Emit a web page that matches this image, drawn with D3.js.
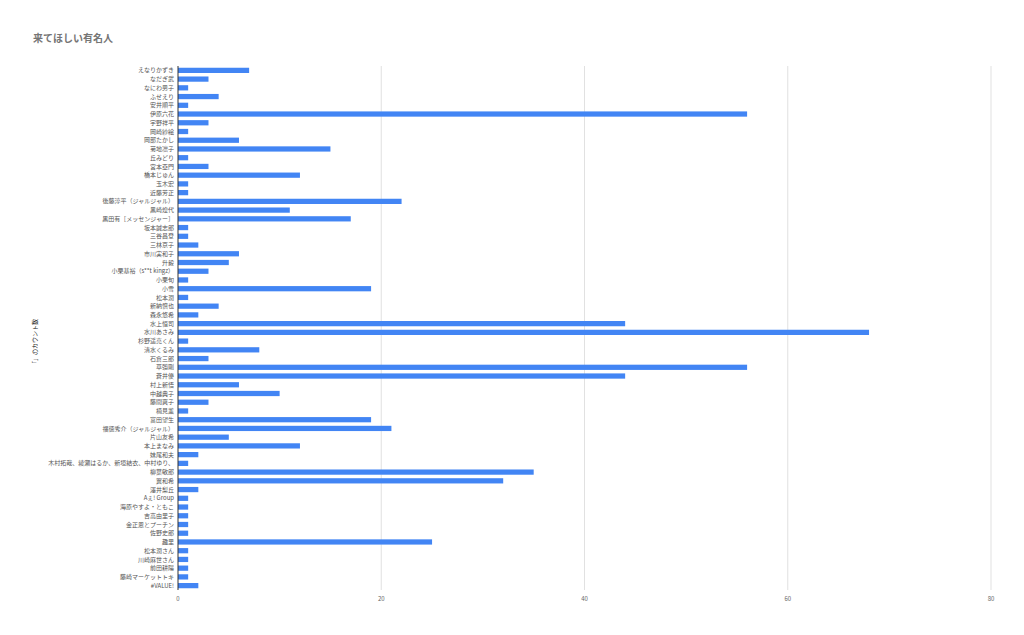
<!DOCTYPE html>
<html>
<head>
<meta charset="utf-8">
<script src="https://cdn.jsdelivr.net/npm/d3@7"></script>
<style>
  body { margin: 0; background: #fff; }
  svg { font-family: "Noto Sans CJK JP", "Noto Sans", sans-serif; }
</style>
</head>
<body>
<svg width="1024" height="635"></svg>
<script>
'use strict';

var names = [
    'えなりかずき', 'なだぎ武', 'なにわ男子', 'ふせえり', '安井順平', '伊原六花', '宇野祥平', '岡崎紗絵',
    '岡部たかし', '菊地凛子', '丘みどり', '宮本亞門', '橋本じゅん', '玉木宏', '近藤芳正',
    '後藤淳平（ジャルジャル）', '黒崎煌代', '黒田有［メッセンジャー］', '坂本誠志郎', '三谷昌登', '三林京子',
    '市川実和子', '升毅', '小栗基裕（s**t kingz）', '小栗旬', '小雪', '松本潤', '新納慎也', '森永悠希',
    '水上恒司', '水川あさみ', '杉野遥亮くん', '清水くるみ', '石倉三郎', '草彅剛', '蒼井優', '村上新悟',
    '中越典子', '藤間爽子', '楠見薫', '富田望生', '福徳秀介（ジャルジャル）', '片山友希', '本上まなみ',
    '妹尾和夫', '木村拓哉、綾瀬はるか、新垣結衣、中村ゆり、', '柳葉敏郎', '翼和希', '澤井梨丘', 'Aぇ! Group',
    '海原やすよ・ともこ', '吉高由里子', '金正恩とプーチン', '佐野史郎', '趣里', '松本潤さん', '川崎麻世さん',
    '前田耕陽', '藤崎マーケットトキ', '#VALUE!'
];
var counts = [
    7, 3, 1, 4, 1, 56, 3, 1,
    6, 15, 1, 3, 12, 1, 1,
    22, 11, 17, 1, 1, 2,
    6, 5, 3, 1, 19, 1, 4, 2,
    44, 68, 1, 8, 3, 56, 44, 6,
    10, 3, 1, 19, 21, 5, 12,
    2, 1, 35, 32, 2, 1,
    1, 1, 1, 1, 25, 1, 1,
    1, 1, 2
];
var xTicks = [0, 20, 40, 60, 80];

var svg = d3.select('svg');
var plotLeft = 178, plotRight = 991, plotTop = 66, plotBottom = 590;

var x = d3.scaleLinear().domain([0, 80]).range([plotLeft, plotRight]);
var y = d3.scaleBand().domain(d3.range(names.length)).range([plotTop, plotBottom]).paddingInner(0.4).paddingOuter(0.2);

// 标题
svg.append('text')
    .text('来てほしい有名人')
    .attr('x', 33)
    .attr('y', 42)
    .attr('font-size', '10px')
    .attr('font-weight', 'bold')
    .attr('fill', '#757575');

// 网格线
svg.append('g')
    .selectAll('line')
    .data(xTicks.slice(1))
    .enter()
    .append('line')
    .attr('x1', function (d) { return x(d); })
    .attr('x2', function (d) { return x(d); })
    .attr('y1', plotTop)
    .attr('y2', plotBottom)
    .attr('stroke', '#cccccc')
    .attr('stroke-width', 0.6);

// 柱子
svg.append('g')
    .selectAll('rect')
    .data(counts)
    .enter()
    .append('rect')
    .attr('x', x(0))
    .attr('y', function (d, i) { return y(i); })
    .attr('width', function (d) { return x(d) - x(0); })
    .attr('height', y.bandwidth())
    .attr('fill', '#4285f4');

// 轴线
svg.append('line')
    .attr('x1', x(0)).attr('x2', x(0))
    .attr('y1', plotTop).attr('y2', plotBottom)
    .attr('stroke', '#333333')
    .attr('stroke-width', 1);

// 类别标签
svg.append('g')
    .selectAll('text')
    .data(names)
    .enter()
    .append('text')
    .text(function (d) { return d; })
    .attr('x', plotLeft - 4)
    .attr('y', function (d, i) { return y(i) + y.bandwidth() / 2; })
    .attr('dy', '0.35em')
    .attr('text-anchor', 'end')
    .attr('font-size', '6px')
    .attr('fill', '#555555');

// x轴刻度
svg.append('g')
    .selectAll('text')
    .data(xTicks)
    .enter()
    .append('text')
    .text(function (d) { return d; })
    .attr('x', function (d) { return x(d); })
    .attr('y', 601)
    .attr('text-anchor', 'middle')
    .attr('font-size', '6px')
    .attr('fill', '#666666');

// y轴标题
svg.append('text')
    .text('「」のカウント数')
    .attr('transform', 'translate(37,' + ((plotTop + plotBottom) / 2 + 15) + ') rotate(-90)')
    .attr('text-anchor', 'middle')
    .attr('font-size', '6px')
    .attr('fill', '#222222');
</script>
</body>
</html>
